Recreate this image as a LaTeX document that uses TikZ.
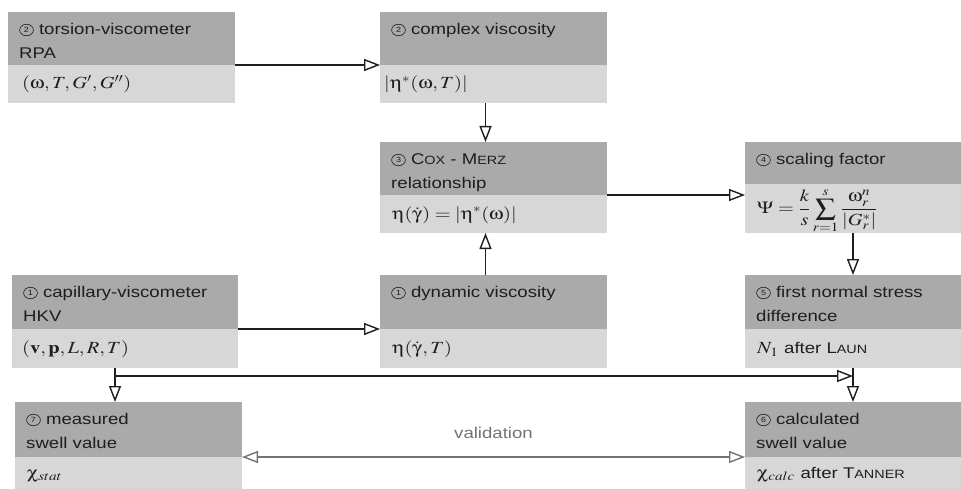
\documentclass[tikz,border=0pt]{standalone}
\usepackage{mathptmx}
\usepackage[Symbol]{upgreek}
\usepackage[no-math]{fontspec}
\setmainfont{Liberation Sans}
\usetikzlibrary{arrows.meta}

\definecolor{hdgray}{RGB}{170,170,170}
\definecolor{bdgray}{RGB}{215,215,215}
\definecolor{ink}{RGB}{30,30,30}
\definecolor{valgray}{RGB}{115,115,115}

% fake small capitals for author names
\newcommand\smcap[2]{#1{\fontsize{12}{12}\selectfont #2}}

\tikzset{
  hdbox/.style={fill=hdgray, draw=none, anchor=north west, inner sep=0pt, outer sep=0pt},
  bdbox/.style={fill=bdgray, draw=none, anchor=north west, inner sep=0pt, outer sep=0pt},
  hdtext/.style={anchor=north west, inner sep=0pt, align=left, xscale=1.2, text=ink,
                 font=\fontsize{15.5}{24}\selectfont},
  bdtext/.style={anchor=base west, inner sep=0pt, xscale=1.2, text=ink,
                 font=\fontsize{17}{20}\selectfont},
  cnum/.style={circle, draw=ink, line width=0.6pt, inner sep=0pt, minimum size=11.5pt,
               xscale=1.2, text=ink, font=\fontsize{7.5}{7.5}\selectfont},
  conn/.style={draw=ink, line width=1.4pt,
               -{Triangle[open, length=16pt, width=12pt, line width=1.4pt]}},
  valconn/.style={draw=valgray, line width=1.4pt,
               {Triangle[open, length=16pt, width=12pt, line width=1.4pt]}-{Triangle[open, length=16pt, width=12pt, line width=1.4pt]}},
  valtext/.style={inner sep=0pt, xscale=1.2, text=valgray, font=\fontsize{15.5}{18}\selectfont}
}

% panel: name, left x, top y, width, header height, body height
\newcommand\panel[6]{%
  \node[hdbox, minimum width=#4pt, minimum height=#5pt] (#1h) at (#2,#3) {};
  \node[bdbox, minimum width=#4pt, minimum height=#6pt] (#1b) at (#1h.south west) {};
}
% header caption: name, number, text (first baseline 22pt below the top)
\newcommand\headtext[3]{%
  \node[cnum] (#1n) at ([xshift=18.5pt, yshift=-18pt]#1h.north west) {#2};
  \node[hdtext] (#1t) at ([xshift=11pt, yshift=-10pt]#1h.north west)
    {\rule{0pt}{12pt}\hspace{16.5pt}#3};
}
% body content: name, left inset, content
\newcommand\bodytext[3]{%
  \node[bdtext] (#1m) at ([xshift=#2pt, yshift=-5pt]#1b.west) {#3};
}

\begin{document}
\begin{tikzpicture}[x=1pt, y=-1pt]
\useasboundingbox (0,0) rectangle (961,489);

% boxes
\panel{tor}{8}{12}{227}{53}{38}
\panel{com}{380}{12}{227}{53}{38}
\panel{cox}{380}{142}{227}{53}{38}
\panel{sca}{745}{142}{216}{42}{49}
\panel{cap}{12}{275}{226}{54}{39}
\panel{dyn}{380}{275}{227}{54}{39}
\panel{fns}{745}{275}{216}{54}{39}
\panel{mea}{15}{402}{227}{55}{32}
\panel{cal}{745}{402}{216}{55}{32}

% captions
\headtext{tor}{2}{torsion-viscometer\\RPA}
\headtext{com}{2}{complex viscosity}
\headtext{cox}{3}{\smcap{C}{OX} - \smcap{M}{ERZ}\\relationship}
\headtext{sca}{4}{scaling factor}
\headtext{cap}{1}{capillary-viscometer\\HKV}
\headtext{dyn}{1}{dynamic viscosity}
\headtext{fns}{5}{first normal stress\\difference}
\headtext{mea}{7}{measured\\swell value}
\headtext{cal}{6}{calculated\\swell value}

% quantities
\bodytext{tor}{14}{$(\upomega, T, G', G'')$}
\bodytext{com}{4}{$|\upeta^{*}(\upomega, T)|$}
\bodytext{cox}{12}{$\upeta(\dot\upgamma) = |\upeta^{*}(\upomega)|$}
\bodytext{sca}{12}{$\displaystyle \Psi = \frac{k}{s}\sum_{r=1}^{s}\frac{\upomega_r^{n}}{|G_r^{*}|}$}
\bodytext{cap}{10}{$(\mathbf{v}, \mathbf{p}, L, R, T)$}
\bodytext{dyn}{12}{$\upeta(\dot\upgamma, T)$}
\bodytext{fns}{12}{$N_1$ {\fontsize{15.5}{18}\selectfont after \smcap{L}{AUN}}}
\bodytext{mea}{12}{$\upchi_{stat}$}
\bodytext{cal}{12}{$\upchi_{calc}$ {\fontsize{15.5}{18}\selectfont after \smcap{T}{ANNER}}}

% connectors
\draw[conn] (torh.south east) -- (comh.south west);
\draw[conn] ([xshift=-8pt]comb.south) -- ([xshift=-8pt]coxh.north);
\draw[conn] ([xshift=-8pt]dynh.north) -- ([xshift=-8pt]coxb.south);
\draw[conn] (coxh.south east) -- (coxh.south east -| scab.west);
\draw[conn] (scab.south) -- (fnsh.north);
\draw[conn] (caph.south east) -- (dynh.south west);

\coordinate (split) at ([xshift=-10pt]capb.south);
\draw[conn] (split) -- (split |- meah.north);
\draw[conn] ([yshift=-8pt]split) -- ([yshift=-8pt]split -| fnsb.south);
\draw[conn] (fnsb.south) -- (calh.north);

\draw[valconn] (meah.south east) -- (calh.south west)
  node[valtext, midway, anchor=base, yshift=19pt] (vlab) {validation};
\end{tikzpicture}
\end{document}
